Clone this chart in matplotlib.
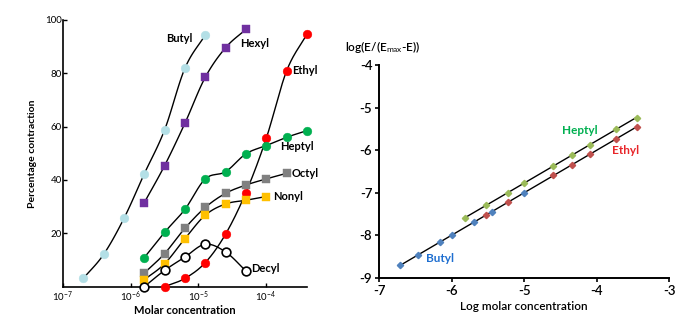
import numpy as np
import matplotlib
matplotlib.use("Agg")
from matplotlib import pyplot as plt

plt.rcParams['font.family'] = ['Lato', 'DejaVu Sans']
plt.rcParams['mathtext.fontset'] = 'custom'
plt.rcParams['mathtext.rm'] = 'Lato'
plt.rcParams['mathtext.it'] = 'Lato'
plt.rcParams['mathtext.bf'] = 'Lato:bold'
plt.rcParams['axes.unicode_minus'] = False

# ---- left panel: concentration-response curves ----
butyl_conc = [2.0e-7, 4.0e-7, 8.0e-7, 1.6e-6, 3.2e-6, 6.4e-6, 1.28e-5]
butyl_resp = [3.1, 12.1, 25.6, 42.3, 58.8, 81.9, 94.4]
hexyl_conc = [1.6e-6, 3.2e-6, 6.4e-6, 1.28e-5, 2.56e-5, 5.12e-5]
hexyl_resp = [31.5, 45.4, 61.3, 78.5, 89.6, 96.5]
ethyl_conc = [3.2e-6, 6.4e-6, 1.28e-5, 2.56e-5, 5.12e-5, 1.024e-4, 2.05e-4, 4.1e-4]
ethyl_resp = [0.0, 3.1, 9.0, 19.7, 35.3, 55.6, 80.9, 94.7]
heptyl_conc = [1.6e-6, 3.2e-6, 6.4e-6, 1.28e-5, 2.56e-5, 5.12e-5, 1.024e-4, 2.05e-4, 4.1e-4]
heptyl_resp = [10.9, 20.4, 29.0, 40.4, 43.1, 49.8, 52.9, 56.0, 58.5]
octyl_conc = [1.6e-6, 3.2e-6, 6.4e-6, 1.28e-5, 2.56e-5, 5.12e-5, 1.024e-4, 2.05e-4]
octyl_resp = [5.1, 12.4, 21.9, 29.7, 35.0, 38.1, 40.4, 42.5]
nonyl_conc = [1.6e-6, 3.2e-6, 6.4e-6, 1.28e-5, 2.56e-5, 5.12e-5, 1.024e-4]
nonyl_resp = [2.6, 8.6, 18.0, 26.8, 31.0, 32.4, 33.8]
decyl_conc = [1.6e-6, 3.2e-6, 6.4e-6, 1.28e-5, 2.56e-5, 5.12e-5]
decyl_resp = [0.0, 6.1, 11.1, 15.9, 13.0, 5.9]

left_xticks = [1e-7, 1e-6, 1e-5, 1e-4]
left_xticklabels = ['$10^{-7}$', '$10^{-6}$', '$10^{-5}$', '$10^{-4}$']
left_yticks = [20, 40, 60, 80, 100]

# ---- right panel: log-transformed ----
butyl_logc = [-6.71, -6.46, -6.16, -6.00, -5.70, -5.45, -5.00]
butyl_logr = [-8.71, -8.47, -8.15, -8.00, -7.69, -7.45, -7.01]
ethyl_logc = [-5.53, -5.23, -4.60, -4.34, -4.09, -3.74, -3.45]
ethyl_logr = [-7.53, -7.23, -6.59, -6.35, -6.09, -5.74, -5.46]
heptyl_logc = [-5.82, -5.53, -5.23, -5.00, -4.60, -4.34, -4.09, -3.74, -3.45]
heptyl_logr = [-7.60, -7.30, -7.00, -6.77, -6.37, -6.12, -5.87, -5.51, -5.24]


def smooth(xs, ys, n=20):
    # catmull-rom curve through the points, x in log space
    p = np.column_stack([np.log10(xs), ys])
    p = np.vstack([2 * p[0] - p[1], p, 2 * p[-1] - p[-2]])
    t = np.linspace(0, 1, n)[:, None]
    out = []
    for i in range(1, len(p) - 2):
        p0, p1, p2, p3 = p[i - 1], p[i], p[i + 1], p[i + 2]
        seg = 0.5 * (2 * p1 + (-p0 + p2) * t + (2 * p0 - 5 * p1 + 4 * p2 - p3) * t ** 2
                     + (-p0 + 3 * p1 - 3 * p2 + p3) * t ** 3)
        out.append(seg)
    out = np.vstack(out)
    return 10 ** out[:, 0], out[:, 1]


fig = plt.figure(figsize=(6.99, 3.25), dpi=100)
ax = fig.add_axes([0.0901, 0.118, 0.349, 0.8206])

series = [
    (ethyl_conc, ethyl_resp, 'o', '#ff0000', '#ff0000'),
    (butyl_conc, butyl_resp, 'o', '#b3dfe6', '#b3dfe6'),
    (hexyl_conc, hexyl_resp, 's', '#7030a0', '#7030a0'),
    (heptyl_conc, heptyl_resp, 'o', '#00b050', '#00b050'),
    (octyl_conc, octyl_resp, 's', '#808080', '#808080'),
    (nonyl_conc, nonyl_resp, 's', '#ffc000', '#ffc000'),
    (decyl_conc, decyl_resp, 'o', 'white', 'black'),
]
for i, (xc, yr, mk, fc, ec) in enumerate(series):
    sx, sy = smooth(xc, yr)
    ax.plot(sx, sy, color='black', lw=1.0, zorder=2, clip_on=False)
    ax.plot(xc, yr, ls='none', marker=mk, ms=6.3 if mk == 'o' else 5.8,
            mfc=fc, mec=ec, mew=1.2 if fc == 'white' else 0.3,
            zorder=3 + i, clip_on=False)

ax.set_xscale('log')
ax.set_xlim(1e-7, 4.1e-4)
ax.set_ylim(0, 100)
ax.set_xticks(left_xticks)
ax.set_xticklabels(left_xticklabels)
ax.xaxis.set_minor_locator(matplotlib.ticker.NullLocator())
ax.set_yticks(left_yticks)
ax.tick_params(axis='both', direction='in', length=3, width=1, labelsize=7, pad=2)
ax.tick_params(axis='y', pad=1)
for s in ['top', 'right']:
    ax.spines[s].set_visible(False)
for s in ['left', 'bottom']:
    ax.spines[s].set_linewidth(1.2)
ax.set_xlabel('Molar concentration', fontsize=8, fontweight='bold', labelpad=1)
ax.set_ylabel('Percentage contraction', fontsize=7.5, fontweight='bold', labelpad=6)

lab = dict(fontsize=8, fontweight='bold', va='center')
ax.text(10 ** -5.27, 93.1, 'Butyl', ha='center', **lab)
ax.text(10 ** -4.16, 91.3, 'Hexyl', ha='center', **lab)
ax.text(10 ** -3.60, 81.0, 'Ethyl', ha='left', **lab)
ax.text(10 ** -3.79, 52.5, 'Heptyl', ha='left', **lab)
ax.text(10 ** -3.62, 42.5, 'Octyl', ha='left', **lab)
ax.text(10 ** -3.89, 33.7, 'Nonyl', ha='left', **lab)
ax.text(10 ** -4.21, 6.9, 'Decyl', ha='left', **lab)

# right panel
ax2 = fig.add_axes([0.5426, 0.1455, 0.4149, 0.6545])
bx = np.array(butyl_logc + ethyl_logc)
by = np.array(butyl_logr + ethyl_logr)
k1 = np.polyfit(bx, by, 1)
xx = np.array([bx.min(), bx.max()])
ax2.plot(xx, np.polyval(k1, xx), color='black', lw=1.0, zorder=2)
k2 = np.polyfit(heptyl_logc, heptyl_logr, 1)
xx = np.array([min(heptyl_logc), max(heptyl_logc)])
ax2.plot(xx, np.polyval(k2, xx), color='black', lw=1.0, zorder=2)

ax2.plot(butyl_logc, butyl_logr, ls='none', marker='D', ms=3.2, color='#4f81bd', zorder=3)
ax2.plot(ethyl_logc, ethyl_logr, ls='none', marker='D', ms=3.2, color='#c0504d', zorder=3)
ax2.plot(heptyl_logc, heptyl_logr, ls='none', marker='D', ms=3.2, color='#9bbb59', zorder=3)

ax2.set_xlim(-7, -3)
ax2.set_ylim(-9, -4)
ax2.set_xticks([-7, -6, -5, -4, -3])
ax2.set_yticks([-9, -8, -7, -6, -5, -4])
ax2.tick_params(axis='both', direction='out', length=3, width=1.2, labelsize=9.5, pad=2)
for lbl in ax2.get_xticklabels() + ax2.get_yticklabels():
    lbl.set_fontweight('semibold')
for s in ['top', 'right']:
    ax2.spines[s].set_visible(False)
for s in ['left', 'bottom']:
    ax2.spines[s].set_linewidth(1.4)
ax2.set_xlabel('Log molar concentration', fontsize=8.5, fontweight='semibold', labelpad=3)
fig.text(0.494, 0.855, 'log(E/(E$_{max}$-E))', fontsize=8.5, fontweight='semibold',
         ha='left', va='center')

ax2.text(-4.23, -5.53, 'Heptyl', color='#00b050', fontsize=8.5, fontweight='bold', ha='center', va='center')
ax2.text(-3.60, -6.00, 'Ethyl', color='#e8262a', fontsize=8.5, fontweight='bold', ha='center', va='center')
ax2.text(-6.16, -8.55, 'Butyl', color='#1f6fd0', fontsize=8.5, fontweight='bold', ha='center', va='center')

fig.savefig('out.png', dpi=100)
